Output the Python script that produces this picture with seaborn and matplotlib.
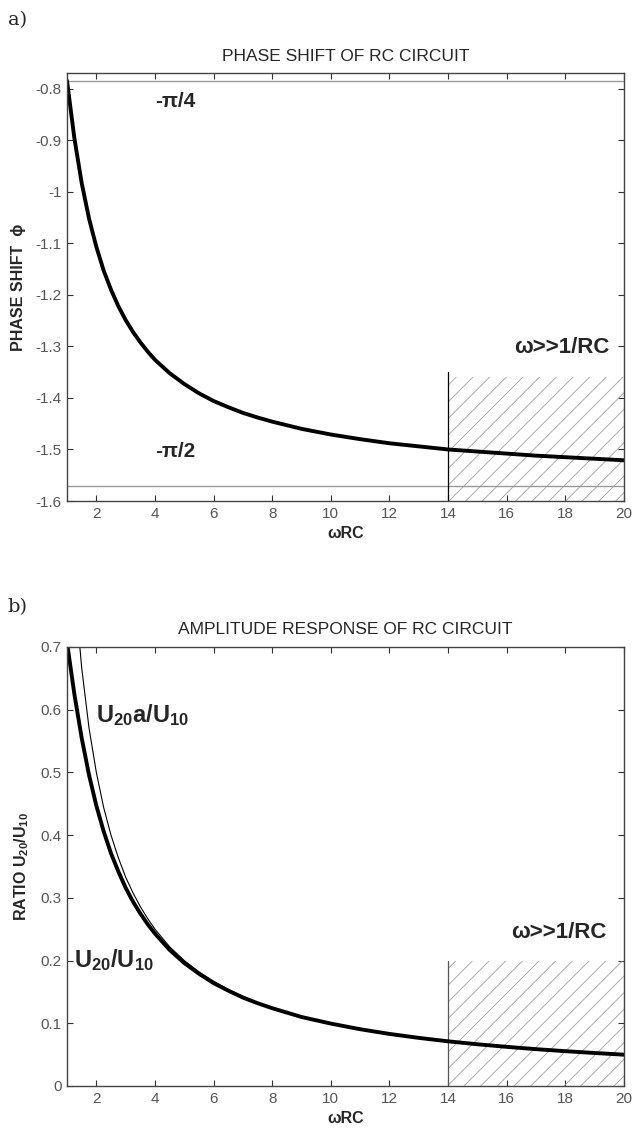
import numpy as np
import pandas as pd
import matplotlib
matplotlib.use('Agg')
import matplotlib.pyplot as plt
import seaborn as sns

# values
wrc = [1, 1.25, 1.5, 1.75, 2, 2.25, 2.5, 2.75, 3, 3.25, 3.5, 3.75, 4, 4.5, 5, 5.5,
       6, 6.5, 7, 7.5, 8, 9, 10, 11, 12, 13, 14, 15, 16, 17, 18, 19, 20]
phase = [-0.785, -0.896, -0.983, -1.052, -1.107, -1.153, -1.190, -1.222, -1.249,
         -1.272, -1.292, -1.310, -1.326, -1.352, -1.373, -1.391, -1.406, -1.418,
         -1.429, -1.438, -1.446, -1.460, -1.471, -1.480, -1.488, -1.494, -1.500,
         -1.504, -1.508, -1.512, -1.515, -1.518, -1.521]
ratio = [0.707, 0.625, 0.555, 0.496, 0.447, 0.406, 0.371, 0.342, 0.316, 0.294,
         0.275, 0.258, 0.243, 0.217, 0.196, 0.179, 0.164, 0.152, 0.141, 0.132,
         0.124, 0.110, 0.0995, 0.0905, 0.0830, 0.0767, 0.0712, 0.0665, 0.0624,
         0.0587, 0.0555, 0.0526, 0.0499]
# asymptotic ratio (thin line), starts above the top of the axes
ratio_a = [0.800, 0.667, 0.571, 0.500, 0.444, 0.400, 0.364, 0.333, 0.308, 0.286,
           0.267, 0.250, 0.222, 0.200, 0.182, 0.167, 0.154, 0.143, 0.133, 0.125,
           0.111, 0.100, 0.0909, 0.0833, 0.0769, 0.0714, 0.0667, 0.0625, 0.0588,
           0.0556, 0.0526, 0.0500]
wrc_a = wrc[1:]

minus_pi_4 = -0.785
minus_pi_2 = -1.571
region_x = [14, 20]

xticks = [2, 4, 6, 8, 10, 12, 14, 16, 18, 20]
yticks_a = [-0.8, -0.9, -1.0, -1.1, -1.2, -1.3, -1.4, -1.5, -1.6]
yticklabels_a = ['-0.8', '-0.9', '-1', '-1.1', '-1.2', '-1.3', '-1.4', '-1.5', '-1.6']
yticks_b = [0, 0.1, 0.2, 0.3, 0.4, 0.5, 0.6, 0.7]
yticklabels_b = ['0', '0.1', '0.2', '0.3', '0.4', '0.5', '0.6', '0.7']

df_a = pd.DataFrame({'wRC': wrc, 'phase': phase, 'ratio': ratio})
df_b = pd.DataFrame({'wRC': wrc_a, 'ratio_a': ratio_a})

sns.set_style('ticks')
plt.rcParams['font.family'] = ['Liberation Sans', 'DejaVu Sans']
plt.rcParams['mathtext.fontset'] = 'custom'
plt.rcParams['mathtext.rm'] = 'Liberation Sans'
plt.rcParams['mathtext.bf'] = 'Liberation Sans:bold'
plt.rcParams['hatch.linewidth'] = 0.6

fig = plt.figure(figsize=(6.34, 11.31), dpi=100)
ax1 = fig.add_axes([0.1057, 0.557, 0.8785, 0.3784])
ax2 = fig.add_axes([0.1057, 0.0398, 0.8785, 0.3882])

grey = '#555555'
for ax in (ax1, ax2):
    ax.tick_params(direction='in', top=True, right=True, length=4, width=0.8,
                   colors='#333333', labelcolor=grey, labelsize=11, pad=4)
    for s in ax.spines.values():
        s.set_color('#444444')
        s.set_linewidth(1.0)

# ---- a) phase shift
ax1.axhline(minus_pi_4, color='#999999', lw=1)
ax1.axhline(minus_pi_2, color='#999999', lw=1)
ax1.fill_between(region_x, -1.6, -1.36, facecolor='none', edgecolor='#a0a0a0',
                 hatch='//', linewidth=0)
ax1.plot([14, 14], [-1.6, -1.35], color='black', lw=0.9)
sns.lineplot(data=df_a, x='wRC', y='phase', ax=ax1, color='black', linewidth=2.8)
ax1.set_xlim(1, 20)
ax1.set_ylim(-1.6, -0.77)
ax1.set_xticks(xticks)
ax1.set_yticks(yticks_a)
ax1.set_yticklabels(yticklabels_a)
ax1.set_title('PHASE SHIFT OF RC CIRCUIT', fontsize=12.5, pad=9)
ax1.set_xlabel('ωRC', fontsize=11.5, fontweight='bold', labelpad=4)
ax1.set_ylabel('PHASE SHIFT  ϕ', fontsize=11.5, fontweight='bold', labelpad=7)
ax1.text(4.0, -0.825, '-π/4', fontsize=15, fontweight='bold', va='center')
ax1.text(4.0, -1.503, '-π/2', fontsize=15, fontweight='bold', va='center')
ax1.text(19.5, -1.302, 'ω>>1/RC', fontsize=16, fontweight='bold', va='center', ha='right')

# ---- b) amplitude response
ax2.fill_between(region_x, 0, 0.2, facecolor='none', edgecolor='#a0a0a0',
                 hatch='//', linewidth=0)
ax2.plot([14, 14], [0, 0.2], color='#555555', lw=0.9)
sns.lineplot(data=df_b, x='wRC', y='ratio_a', ax=ax2, color='black', linewidth=0.8)
sns.lineplot(data=df_a, x='wRC', y='ratio', ax=ax2, color='black', linewidth=2.8)
ax2.set_xlim(1, 20)
ax2.set_ylim(0, 0.7)
ax2.set_xticks(xticks)
ax2.set_yticks(yticks_b)
ax2.set_yticklabels(yticklabels_b)
ax2.set_title('AMPLITUDE RESPONSE OF RC CIRCUIT', fontsize=12.5, pad=9)
ax2.set_xlabel('ωRC', fontsize=11.5, fontweight='bold', labelpad=4)
ax2.set_ylabel(r'RATIO U$_{\mathbf{20}}$/U$_{\mathbf{10}}$', fontsize=11.5,
               fontweight='bold', labelpad=7)
ax2.text(2.0, 0.58, r'$\mathbf{U_{20}a/U_{10}}$', fontsize=17, va='baseline')
ax2.text(1.25, 0.19, r'$\mathbf{U_{20}/U_{10}}$', fontsize=17, va='baseline')
ax2.text(19.4, 0.244, 'ω>>1/RC', fontsize=16, fontweight='bold', va='center', ha='right')

fig.text(0.012, 0.982, 'a)', fontsize=14, family='DejaVu Serif', va='center')
fig.text(0.012, 0.463, 'b)', fontsize=14, family='DejaVu Serif', va='center')

fig.savefig('out.png', dpi=100)
